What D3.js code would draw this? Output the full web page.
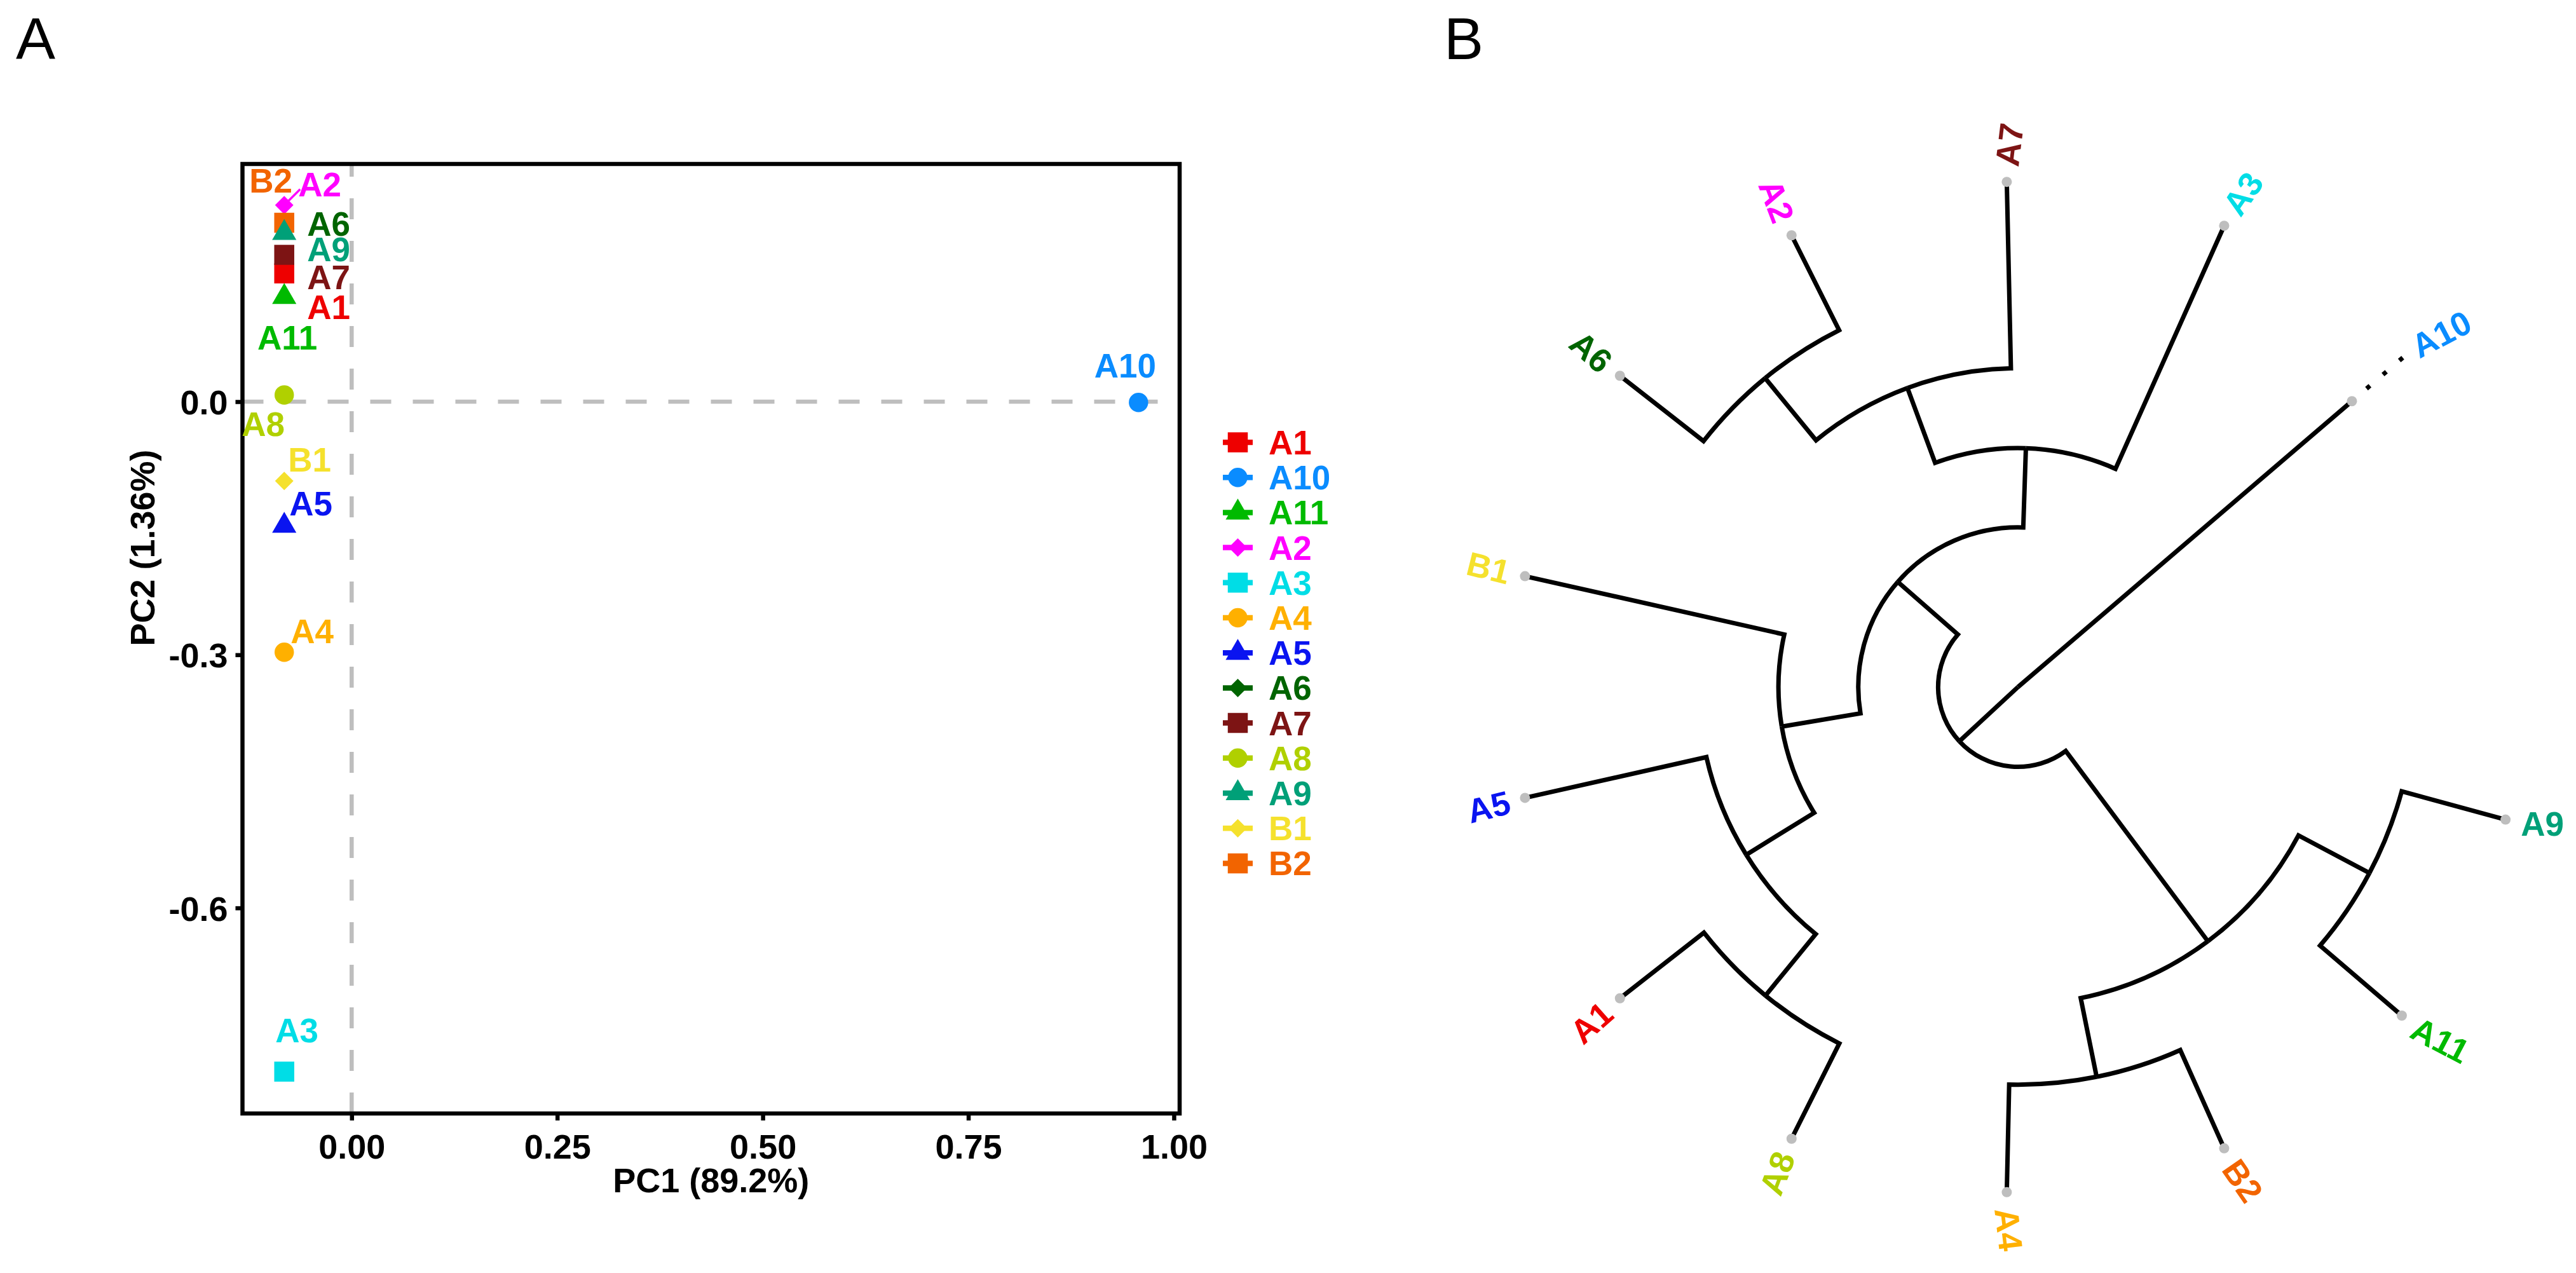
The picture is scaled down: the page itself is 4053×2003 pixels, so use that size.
<!DOCTYPE html>
<html><head><meta charset="utf-8">
<script src="https://cdn.jsdelivr.net/npm/d3@7"></script>
<style>
html,body{margin:0;padding:0;background:#ffffff;}
svg{display:block;}
</style>
</head><body>
<svg id="chart" width="4053" height="2003"></svg>
<script>
// ================= DATA =================
// Panel A: PCA scores
const samples = ["A1","A10","A11","A2","A3","A4","A5","A6","A7","A8","A9","B1","B2"];
const pc1 = [-0.082, 0.957, -0.082, -0.082, -0.082, -0.082, -0.082, -0.082, -0.082, -0.082, -0.082, -0.082, -0.082];
const pc2 = [0.152, -0.001, 0.124, 0.233, -0.794, -0.297, -0.147, 0.205, 0.174, 0.008, 0.200, -0.094, 0.212];
const sampleColors = ["#EE0000","#0A8CFF","#00BA00","#FF00FF","#00DDE6","#FFB000","#0A14F0","#006400","#7D1414","#B0D000","#00A078","#F5E12D","#F26400"];
const shapeCycle = ["square","circle","triangle","diamond"];
const xTicks = [0, 0.25, 0.5, 0.75, 1.0];
const xTickLabels = ["0.00","0.25","0.50","0.75","1.00"];
const yTicks = [0, -0.3, -0.6];
const yTickLabels = ["0.0","-0.3","-0.6"];
const xTitle = "PC1 (89.2%)";
const yTitle = "PC2 (1.36%)";

// Panel B: clustering tree (branch lengths) and tip order around the circle
const newickTree = "((((B1:0.526,(A5:0.368,(A1:0.211,A8:0.211):0.157):0.158):0.158,(((A6:0.210,A2:0.210):0.159,A7:0.369):0.158,A3:0.527):0.157):0.158,((A4:0.213,B2:0.213):0.159,(A11:0.213,A9:0.213):0.159):0.470):0.158,A10:0.870);";
const tipOrder = ["A10","A3","A7","A2","A6","B1","A5","A1","A8","A4","B2","A11","A9"];

// ================= LAYOUT / STYLE =================
const FONT = '"Liberation Sans", Arial, Helvetica, sans-serif';
const svg = d3.select("#chart");
const colorOf = d3.scaleOrdinal().domain(samples).range(sampleColors);
const shapeOf = name => shapeCycle[samples.indexOf(name) % shapeCycle.length];
const symType = {square: d3.symbolSquare, circle: d3.symbolCircle, triangle: d3.symbolTriangle, diamond: d3.symbolSquare};
const symSize = {square: 992, circle: 730, triangle: 629, diamond: 420};
const symRot = {square: 0, circle: 0, triangle: 0, diamond: 45};

// panel tags
svg.append("text").attr("x", 25).attr("y", 93).attr("font-family", FONT).attr("font-size", 93).text("A");
svg.append("text").attr("x", 2272).attr("y", 93).attr("font-family", FONT).attr("font-size", 93).text("B");

// ---------- Panel A ----------
const A = {left: 381.5, right: 1856, top: 258, bottom: 1752};
const x = d3.scaleLinear().domain([-0.1328, 1.007]).range([A.left, A.right]);
const y = d3.scaleLinear().domain([-0.8436, 0.2817]).range([A.bottom, A.top]);
const gA = svg.append("g");

// reference dashed lines
gA.append("line").attr("x1", A.left).attr("x2", A.right).attr("y1", y(0)).attr("y2", y(0))
  .attr("stroke", "#BEBEBE").attr("stroke-width", 6.5).attr("stroke-dasharray", "33 34");
gA.append("line").attr("x1", x(0)).attr("x2", x(0)).attr("y1", A.bottom).attr("y2", A.top)
  .attr("stroke", "#BEBEBE").attr("stroke-width", 6.5).attr("stroke-dasharray", "33 34");

// axes
const xAxis = d3.axisBottom(x).tickValues(xTicks).tickFormat((d, i) => xTickLabels[i]).tickSize(11).tickSizeOuter(0).tickPadding(22);
const yAxis = d3.axisLeft(y).tickValues(yTicks).tickFormat((d, i) => yTickLabels[i]).tickSize(11).tickSizeOuter(0).tickPadding(12);
const gx = gA.append("g").attr("transform", `translate(0,${A.bottom})`).call(xAxis);
const gy = gA.append("g").attr("transform", `translate(${A.left},0)`).call(yAxis);
[gx, gy].forEach(g => {
  g.select(".domain").remove();
  g.selectAll(".tick line").attr("stroke", "#000").attr("stroke-width", 6.5);
  g.selectAll(".tick text").attr("fill", "#000").attr("font-family", FONT).attr("font-weight", "bold").attr("font-size", 54);
});
gy.selectAll(".tick text").attr("dy", "0.36em");

// panel border
gA.append("rect").attr("x", A.left).attr("y", A.top).attr("width", A.right - A.left).attr("height", A.bottom - A.top)
  .attr("fill", "none").attr("stroke", "#000").attr("stroke-width", 6.5);

// axis titles
gA.append("text").attr("x", (A.left + A.right) / 2).attr("y", 1876).attr("text-anchor", "middle")
  .attr("font-family", FONT).attr("font-weight", "bold").attr("font-size", 54).text(xTitle);
gA.append("text").attr("transform", `translate(243,862) rotate(-90)`).attr("text-anchor", "middle")
  .attr("font-family", FONT).attr("font-weight", "bold").attr("font-size", 54).text(yTitle);

// points
const pts = samples.map((s, i) => ({name: s, pc1: pc1[i], pc2: pc2[i]}));
const drawOrder = ["A1","A10","A11","A2","A3","A4","A5","A6","A7","A8","B1","B2","A9"];
const ptsDraw = drawOrder.map(n => pts.find(p => p.name === n));

// repel-style label offsets (px) and connector segments
const labelOffset = {A1:[70,53], A10:[-21,-58], A11:[5,64], A2:[56,-33], A3:[20,-65], A4:[44,-33], A5:[42,-35],
  A6:[70,-8], A7:[70,35], A8:[-33,46], A9:[70,25.5], B1:[40,-34], B2:[-21,-67]};
const segmentEnd = {A2:[25,-25]};

Object.keys(segmentEnd).forEach(n => {
  const p = pts.find(d => d.name === n);
  gA.append("line").attr("x1", x(p.pc1)).attr("y1", y(p.pc2))
    .attr("x2", x(p.pc1) + segmentEnd[n][0]).attr("y2", y(p.pc2) + segmentEnd[n][1])
    .attr("stroke", colorOf(n)).attr("stroke-width", 3.5);
});

gA.selectAll("path.pt").data(ptsDraw).join("path").attr("class", "pt")
  .attr("d", d => d3.symbol().type(symType[shapeOf(d.name)]).size(symSize[shapeOf(d.name)])())
  .attr("transform", d => `translate(${x(d.pc1)},${y(d.pc2)}) rotate(${symRot[shapeOf(d.name)]})`)
  .attr("fill", d => colorOf(d.name));

gA.selectAll("text.lab").data(pts).join("text").attr("class", "lab")
  .attr("x", d => x(d.pc1) + labelOffset[d.name][0])
  .attr("y", d => y(d.pc2) + labelOffset[d.name][1])
  .attr("dy", "0.36em").attr("text-anchor", "middle")
  .attr("font-family", FONT).attr("font-weight", "bold").attr("font-size", 53)
  .attr("fill", d => colorOf(d.name)).text(d => d.name);

// legend
const leg = gA.append("g").attr("transform", "translate(1924,696)");
const rowH = 55.2;
samples.forEach((s, i) => {
  const row = leg.append("g").attr("transform", `translate(0,${i * rowH})`);
  row.append("line").attr("x1", 0).attr("x2", 47).attr("y1", 0).attr("y2", 0).attr("stroke", colorOf(s)).attr("stroke-width", 8.5);
  row.append("path").attr("d", d3.symbol().type(symType[shapeOf(s)]).size(symSize[shapeOf(s)])())
    .attr("transform", `translate(23.5,0) rotate(${symRot[shapeOf(s)]})`).attr("fill", colorOf(s));
  row.append("text").attr("x", 72).attr("y", 0).attr("dy", "0.36em")
    .attr("font-family", FONT).attr("font-weight", "bold").attr("font-size", 53).attr("fill", colorOf(s)).text(s);
});

// ---------- Panel B ----------
function parseNewick(s) {
  let i = 0;
  function node() {
    const n = {};
    if (s[i] === "(") {
      i++;
      n.children = [];
      n.children.push(node());
      while (s[i] === ",") { i++; n.children.push(node()); }
      i++; // ')'
    }
    let name = "";
    while (i < s.length && !",():;".includes(s[i])) name += s[i++];
    n.name = name.trim();
    n.length = 0;
    if (s[i] === ":") {
      i++;
      let num = "";
      while (i < s.length && !",();".includes(s[i])) num += s[i++];
      n.length = +num;
    }
    return n;
  }
  return node();
}
const root = d3.hierarchy(parseNewick(newickTree));
root.eachBefore(n => { n.dist = (n.parent ? n.parent.dist : 0) + n.data.length; });
root.eachAfter(n => {
  n.pos = n.children ? d3.mean(n.children, c => c.pos) : tipOrder.indexOf(n.data.name) + 1;
});

const BX = 3175, BY = 1081, tipRadius = 795;
const maxDist = d3.max(root.leaves(), d => d.dist);
const rScale = d3.scaleLinear().domain([0, maxDist]).range([0, tipRadius]);
const theta = d3.scaleLinear().domain([-0.6, tipOrder.length + 0.6]).range([0, 2 * Math.PI]);
const P = (r, phi) => [BX + r * Math.cos(phi), BY - r * Math.sin(phi)];
const gB = svg.append("g");

// edges: arc at parent radius, then radial line to child
root.descendants().filter(n => n.parent).forEach(n => {
  const p = n.parent;
  const rp = rScale(p.dist), rn = rScale(n.dist), fp = theta(p.pos), fn = theta(n.pos);
  const path = d3.path();
  const s = P(rp, fp);
  path.moveTo(s[0], s[1]);
  if (rp > 0) path.arc(BX, BY, rp, -fp, -fn, fn > fp);
  const e = P(rn, fn);
  path.lineTo(e[0], e[1]);
  gB.append("path").attr("d", path.toString()).attr("fill", "none").attr("stroke", "#000")
    .attr("stroke-width", 7).attr("stroke-linejoin", "miter").attr("stroke-linecap", "butt");
});

// aligned dotted extensions (drawn from the aligned radius inward)
root.leaves().filter(l => rScale(l.dist) < tipRadius - 1).forEach(l => {
  const f = theta(l.pos);
  const a = P(tipRadius + 2, f), b = P(rScale(l.dist), f);
  gB.append("line").attr("x1", a[0]).attr("y1", a[1]).attr("x2", b[0]).attr("y2", b[1])
    .attr("stroke", "#000").attr("stroke-width", 7).attr("stroke-dasharray", "7 27");
});

// tip points
gB.selectAll("circle.tip").data(root.leaves()).join("circle").attr("class", "tip")
  .attr("cx", d => P(rScale(d.dist), theta(d.pos))[0])
  .attr("cy", d => P(rScale(d.dist), theta(d.pos))[1])
  .attr("r", 8).attr("fill", "#BEBEBE");

// tip labels
const labelPad = 25;
root.leaves().forEach(l => {
  const f = theta(l.pos);
  const [lx, ly] = P(tipRadius + labelPad, f);
  let ang = 360 / tipOrder.length * l.pos;
  const flip = ang >= 90 && ang <= 270;
  if (flip) ang += 180;
  gB.append("text").attr("transform", `translate(${lx},${ly}) rotate(${-ang})`)
    .attr("text-anchor", flip ? "end" : "start").attr("dy", "0.36em")
    .attr("font-family", FONT).attr("font-weight", "bold").attr("font-size", 53)
    .attr("fill", colorOf(l.data.name)).text(l.data.name);
});
</script>
</body></html>
